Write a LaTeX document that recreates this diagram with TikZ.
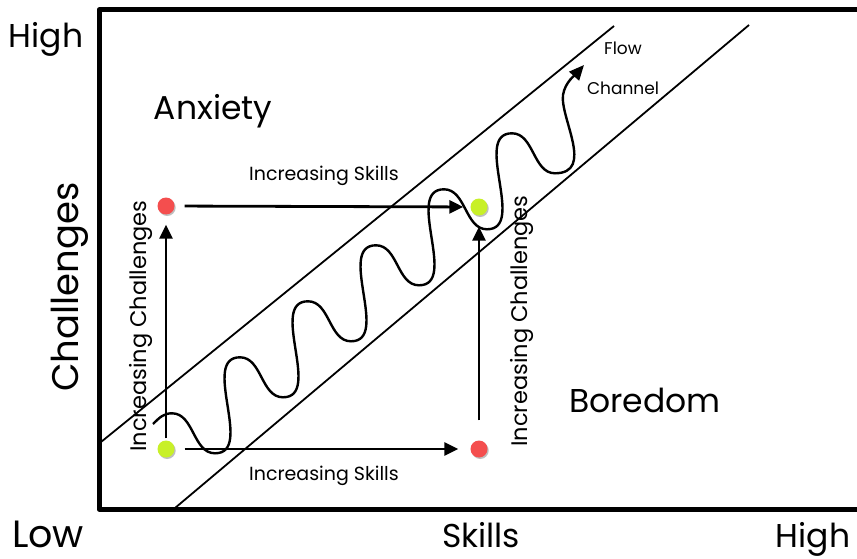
\documentclass[tikz,border=0pt]{standalone}
\usepackage{fontspec}
\setmainfont{Poppins}
\usetikzlibrary{arrows.meta}
\definecolor{dred}{RGB}{244,78,78}
\definecolor{dgreen}{RGB}{200,240,40}
\begin{document}
\begin{tikzpicture}[x=1pt,y=-1pt,
  frame/.style={line width=5pt, line join=round},
  chan/.style={line width=1.8pt},
  arr/.style={line width=2.8pt,-{Triangle[length=14pt,width=13pt]}},
  wave/.style={line width=2.4pt,-{Triangle[length=15pt,width=13pt]}},
  dot/.style={circle,inner sep=0pt,minimum size=17pt,preaction={fill=black!25,transform canvas={xshift=1.2pt,yshift=-1.5pt}}},
  big/.style={font=\fontsize{33}{38}\selectfont},
  mid/.style={font=\fontsize{19}{22}\selectfont},
  vmid/.style={font=\fontsize{22.5}{26}\selectfont},
  small/.style={font=\fontsize{17}{20}\selectfont}]
\useasboundingbox (0,0) rectangle (857,559);
\fill[white] (0,0) rectangle (857,559);
% frame
\coordinate (fr1) at (862,10);
\coordinate (fc1) at (99,10);
\coordinate (fc2) at (99,509);
\coordinate (fr2) at (862,509);
\draw[frame] (fr1) -- (fc1) -- (fc2) -- (fr2);
% channel
\coordinate (ua) at (101,442);
\coordinate (ub) at (614,26);
\coordinate (la) at (175,508);
\coordinate (lb) at (749,25);
\draw[chan] (ua) -- (ub);
\draw[chan] (la) -- (lb);
% wave
\coordinate (ws) at (153,424);
\draw[wave] (ws) .. controls (160,417) and (164,413.3) .. (172,413.3)
  .. controls (194,413.3) and (193,453.3) .. (215,453.3)
  \foreach \k in {0,...,4} {
   .. controls ({215+68*\k+40},{453.3-56*\k}) and ({215+68*\k-15},{453.3-56*\k-96}) .. ({215+68*\k+25},{453.3-56*\k-96})
   .. controls ({215+68*\k+47},{453.3-56*\k-96}) and ({215+68*(\k+1)-22},{453.3-56*(\k+1)}) .. ({215+68*(\k+1)},{453.3-56*(\k+1)})
  }
  .. controls (595,173) and (560,118) .. (563,95)
  .. controls (565,82) and (576,74) .. (584,65);
% dots
\node[dot,fill=dred] (tl) at (166,206) {};
\node[dot,fill=dgreen] (tr) at (479,207) {};
\node[dot,fill=dgreen] (bl) at (166,449) {};
\node[dot,fill=dred] (br) at (479,449) {};
% arrows
\draw[arr,shorten <=10pt,shorten >=7pt] (tl) -- (tr);
\draw[arr,shorten <=10pt,shorten >=12pt] (bl) -- (br);
\draw[arr,shorten <=2pt,shorten >=10pt] (bl) -- (tl);
\draw[arr,shorten <=20pt,shorten >=11pt] (br) -- (tr);
% labels
\node[big,anchor=base] (hi1) at (46,48) {High};
\node[big,anchor=base,inner sep=0pt,font=\fontsize{38}{40}\selectfont] (lo) at (48,547) {Low};
\node[big,anchor=base,inner sep=0pt] (sk) at (481,547) {Skills};
\node[big,anchor=base,inner sep=0pt] (hi2) at (813,547) {High};
\node[big,anchor=base,rotate=90,font=\fontsize{37}{40}\selectfont] (ch) at (78,287) {Challenges};
\node[big,anchor=base] (anx) at (213,120) {Anxiety};
\node[big,anchor=base] (bor) at (645,412) {Boredom};
\node[mid,anchor=base] (is1) at (324,180) {Increasing Skills};
\node[mid,anchor=base] (is2) at (324,480) {Increasing Skills};
\node[vmid,anchor=base,rotate=90] (ic1) at (146,326) {Increasing Challenges};
\node[vmid,anchor=base,rotate=90] (ic2) at (527,321) {Increasing Challenges};
\node[small,anchor=base] (fl) at (623,55) {Flow};
\node[small,anchor=base] (chn) at (623,95) {Channel};
\end{tikzpicture}
\end{document}
